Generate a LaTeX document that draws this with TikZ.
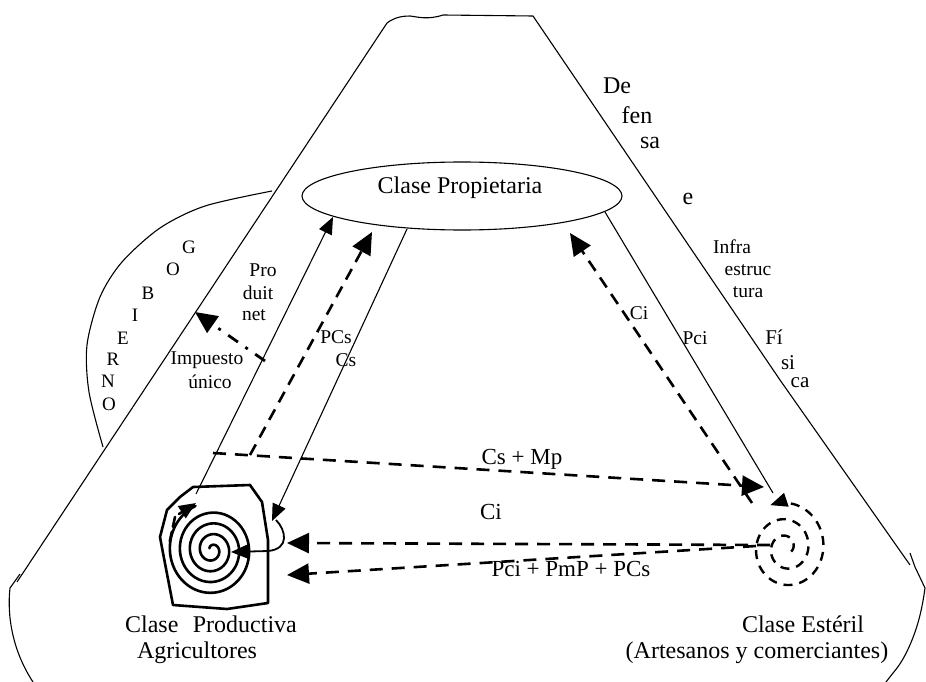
\documentclass[tikz,border=0pt]{standalone}
\usepackage{fontspec}
\setmainfont{Liberation Serif}
\usetikzlibrary{arrows.meta,shapes.geometric}
\begin{document}
\begin{tikzpicture}[x=1pt,y=-1pt,
  thinline/.style={line width=1.1pt, line join=round},
  dashline/.style={line width=2.6pt, dash pattern=on 12pt off 8pt},
  hdash/.style={line width=2.6pt, dash pattern=on 13pt off 9pt},
  bigtip/.style={-{Triangle[length=22pt,width=20pt]}},
  smalltip/.style={-{Triangle[length=17pt,width=14pt]}},
  spiralline/.style={line width=2.6pt, line join=round, line cap=round},
  big/.style={font=\fontsize{24}{26}\selectfont, inner sep=0pt},
  mid/.style={font=\fontsize{23}{25}\selectfont, inner sep=0pt},
  sml/.style={font=\fontsize{19.5}{21}\selectfont, inner sep=0pt},
  gob/.style={font=\fontsize{19}{21}\selectfont, inner sep=0pt},
]
\useasboundingbox (0,0) rectangle (926,682);

% outer cone
\draw[thinline] (17,582) -- (387,23) .. controls (395,17) and (403,16) .. (410,16)
   .. controls (418,17) and (428,20) .. (443,15) -- (533,16) -- (780,380) -- (910,565);
\draw[thinline] (20,574) -- (10,588) .. controls (7,615) and (12,650) .. (33,682);
\draw[thinline] (910,553) -- (915,567) -- (925,588) .. controls (922,610) and (918,625) .. (912,640)
   .. controls (906,655) and (900,665) .. (893,673) -- (886,682);

% gobierno region
\draw[thinline] plot[smooth] coordinates {(272,191) (205,206) (160,228) (122,262) (100,297) (87,345) (89,392) (103,447)};

% Clase Propietaria
\node[ellipse, draw, thinline, minimum width=320pt, minimum height=68pt, inner sep=0pt] (prop) at (462,196) {};
\node[big] (propt) at (460,188) {Clase Propietaria};

% named points
\coordinate (pA0) at (196,494); \coordinate (pA1) at (333,217);
\coordinate (pB0) at (407,229); \coordinate (pB1) at (272,521);
\coordinate (pL0) at (276,520); \coordinate (pL1) at (231,552);
\coordinate (imp0) at (265,361); \coordinate (imp1) at (195,312);
\coordinate (cs0) at (213,453); \coordinate (cs1) at (764,487);
\coordinate (pc0) at (250,455); \coordinate (pc1) at (372,232);
\coordinate (ci0) at (752,503); \coordinate (ci1) at (570,233);
\coordinate (pci0) at (605,212); \coordinate (pci1) at (773,493);
\coordinate (cib0) at (770,545); \coordinate (cib1) at (287,543);
\coordinate (pp0) at (756,546); \coordinate (pp1) at (287,575);

% solid channel lines
\draw[thinline, smalltip] (pA0) -- (pA1);
\draw[thinline, smalltip] (pB0) -- (pB1);
\draw[line width=1.8pt, smalltip] (pL0) .. controls (286,530) and (290,549) .. (268,551) -- (pL1);
\draw[thinline] (pci0) -- (pci1);

% impuesto unico arrow
\draw[line width=2.8pt, dash pattern=on 12pt off 9pt on 3pt off 9pt, bigtip] (imp0) -- (imp1);

% dashed flows
\draw[hdash, bigtip] (cs0) -- (cs1);
\draw[dashline, bigtip] (pc0) -- (pc1);
\draw[dashline, bigtip] (ci0) -- (ci1);
\draw[hdash, bigtip] (cib0) -- (cib1);
\draw[hdash, bigtip] (pp0) -- (pp1);

% Productiva spiral
\draw[spiralline] plot[domain=212:1688, samples=220, smooth]
  ({212 + (3+(\x-212)/1476*41)*cos(\x)}, {550 + 1.08*(3+(\x-212)/1476*41)*sin(\x)});
\draw[spiralline, smalltip] (179,514) -- (196,503);
\draw[spiralline] (180,497) -- (193,487) -- (250,485) -- (262,502) -- (268,540) -- (268,603)
  -- (227,609) -- (173,605) -- (163,553) -- (160,537) -- (167,510) -- cycle;
\draw[spiralline, dash pattern=on 10pt off 5pt] (175,517) -- (169,545);

% Esteril spiral
\draw[line width=2.4pt, dash pattern=on 9pt off 7pt, smalltip] plot[domain=0:864, samples=160, smooth]
  ({786 + (6+\x/864*36)*cos(1112-\x)}, {548 + 1.1*(6+\x/864*36)*sin(1112-\x)});

% labels
\node[gob] (g1) at (189,247) {G};
\node[gob] (g2) at (173,269) {O};
\node[gob] (g3) at (148,293) {B};
\node[gob] (g4) at (135,315) {I};
\node[gob] (g5) at (123,338) {E};
\node[gob] (g6) at (113,359) {R};
\node[gob] (g7) at (108,381) {N};
\node[gob] (g8) at (109,404) {O};

\node[sml] (pr1) at (263,270) {Pro};
\node[sml] (pr2) at (258,293) {duit};
\node[sml] (pr3) at (254,315) {net};
\node[sml] (im1) at (207,360) {Impuesto};
\node[sml] (im2) at (210,382) {único};
\node[sml] (pcs1) at (336,337) {PCs};
\node[sml] (pcs2) at (346,360) {Cs};
\node[sml] (cil) at (639,313) {Ci};
\node[sml] (pcil) at (695,338) {Pci};

\node[big] (d1) at (617,86) {De};
\node[big] (d2) at (637,115) {fen};
\node[big] (d3) at (650,143) {sa};
\node[big] (d4) at (688,199) {e};
\node[sml] (d5) at (732,247) {Infra};
\node[sml] (d6) at (748,270) {estruc};
\node[sml] (d7) at (748,292) {tura};
\node[font=\fontsize{21}{23}\selectfont, inner sep=0pt] (d8) at (774,337) {Fí};
\node[font=\fontsize{21}{23}\selectfont, inner sep=0pt] (d9) at (788,363) {si};
\node[font=\fontsize{21}{23}\selectfont, inner sep=0pt] (d10) at (800,383) {ca};

\node[mid] (csmp) at (522,459) {Cs + Mp};
\node[mid] (cib) at (491,512) {Ci};
\node[mid] (pmp) at (571,569) {Pci + PmP + PCs};

\node[big] (prod) at (211,624) {Clase\hspace{0.6em}Productiva};
\node[big] (prod2) at (197,653) {Agricultores};
\node[big] (est) at (803,624) {Clase Estéril};
\node[big] (est2) at (757,653) {(Artesanos y comerciantes)};
\end{tikzpicture}
\end{document}
